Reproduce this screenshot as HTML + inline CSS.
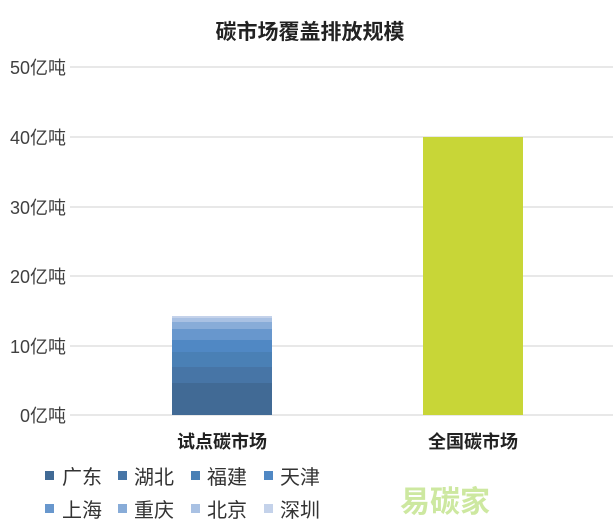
<html><head><style>body{margin:0;background:#fff;width:613px;height:529px;overflow:hidden;font-family:"Liberation Sans","Noto Sans CJK SC",sans-serif}</style></head><body>
<svg width="613" height="529" xmlns="http://www.w3.org/2000/svg" font-family="Liberation Sans, Noto Sans CJK SC, sans-serif">
<g stroke="#d9d9d9" stroke-width="1.3">
<line x1="70" x2="613" y1="67" y2="67"/><line x1="70" x2="613" y1="137" y2="137"/><line x1="70" x2="613" y1="207" y2="207"/><line x1="70" x2="613" y1="276" y2="276"/><line x1="70" x2="613" y1="346" y2="346"/><line x1="70" x2="613" y1="415" y2="415"/></g>
<g font-size="18" fill="#404040" text-anchor="end">
<text x="66" y="74">50亿吨</text><text x="66" y="144">40亿吨</text><text x="66" y="214">30亿吨</text><text x="66" y="283">20亿吨</text><text x="66" y="353">10亿吨</text><text x="66" y="422">0亿吨</text></g>
<text x="310" y="39" font-size="21" font-weight="bold" text-anchor="middle" fill="#222">碳市场覆盖排放规模</text>
<rect x="172" y="383" width="100" height="32" fill="#416a95"/>
<rect x="172" y="367" width="100" height="16" fill="#4775a6"/>
<rect x="172" y="352" width="100" height="15" fill="#4a80b5"/>
<rect x="172" y="340" width="100" height="12" fill="#5088c4"/>
<rect x="172" y="329" width="100" height="11" fill="#6897cd"/>
<rect x="172" y="322" width="100" height="7" fill="#88acd8"/>
<rect x="172" y="318" width="100" height="4" fill="#a9c1e3"/>
<rect x="172" y="316" width="100" height="2" fill="#c4d2ea"/>
<rect x="423" y="137" width="100" height="278" fill="#c8d637"/>
<g font-size="18" font-weight="bold" fill="#222" text-anchor="middle"><text x="222" y="448">试点碳市场</text><text x="473" y="448">全国碳市场</text></g>
<g font-size="20" fill="#333">
<rect x="45" y="471" width="9" height="9" fill="#416a95"/><text x="62" y="484">广东</text>
<rect x="118" y="471" width="9" height="9" fill="#4775a6"/><text x="134" y="484">湖北</text>
<rect x="191" y="471" width="9" height="9" fill="#4a80b5"/><text x="207" y="484">福建</text>
<rect x="264" y="471" width="9" height="9" fill="#5088c4"/><text x="280" y="484">天津</text>
<rect x="45" y="504" width="9" height="9" fill="#6897cd"/><text x="62" y="517">上海</text>
<rect x="118" y="504" width="9" height="9" fill="#88acd8"/><text x="134" y="517">重庆</text>
<rect x="191" y="504" width="9" height="9" fill="#a9c1e3"/><text x="207" y="517">北京</text>
<rect x="264" y="504" width="9" height="9" fill="#c4d2ea"/><text x="280" y="517">深圳</text>
</g>
<text x="400" y="512" font-size="30" font-weight="bold" fill="#cde8a0">易碳家</text>
</svg></body></html>
